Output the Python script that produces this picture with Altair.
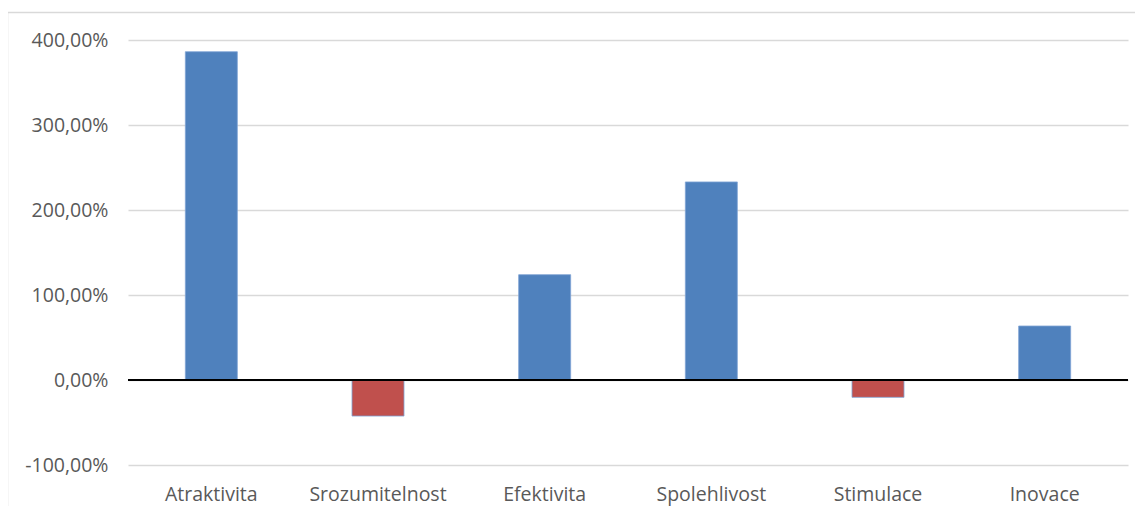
import altair as alt
import pandas as pd

categories = ["Atraktivita", "Srozumitelnost", "Efektivita", "Spolehlivost", "Stimulace", "Inovace"]
values = [3.862, -0.424, 1.239, 2.33, -0.204, 0.635]
y_ticks = [-1, 0, 1, 2, 3, 4]

df = pd.DataFrame({"category": categories, "value": values})

W, H = 1000, 425

x_enc = alt.X("category:N", sort=categories, title=None,
              scale=alt.Scale(paddingInner=0, paddingOuter=0),
              axis=alt.Axis(labelAngle=0, ticks=False, domain=False, grid=False,
                            labelPadding=20, labelFontSize=19.5, labelFont="Open Sans",
                            labelColor="#595959"))
y_scale = alt.Scale(domain=[-1, 4], nice=False, zero=False)

bars = alt.Chart(df).mark_bar(size=52, stroke="#7FA3D4", strokeWidth=0.8).encode(
    x=x_enc,
    y=alt.Y("value:Q", scale=y_scale, title=None,
            axis=alt.Axis(values=y_ticks, ticks=False, domain=False, grid=True,
                          gridColor="#D9D9D9", gridWidth=1.5,
                          labelPadding=20, labelFontSize=19.5, labelFont="Open Sans",
                          labelColor="#595959",
                          labelExpr="(datum.value < 0 ? '-' : '') + replace(format(abs(datum.value)*100, '.2f'), '.', ',') + '%'")),
    y2=alt.datum(0),
    color=alt.condition(alt.datum.value > 0, alt.value("#4F81BD"), alt.value("#C0504D")),
)

zero = alt.Chart(pd.DataFrame({"z": [0]})).mark_rule(color="#000000", strokeWidth=2).encode(
    y=alt.Y("z:Q", scale=y_scale)
)

frame = alt.Chart(pd.DataFrame({"f": [0]})).mark_rect(
    fill=None, stroke="#D9D9D9", strokeWidth=1.5, clip=False
).encode(
    x=alt.value(-120.5), x2=alt.value(1030), y=alt.value(-27.5), y2=alt.value(520)
)

chart = alt.layer(frame, bars, zero).properties(
    width=W, height=H,
    background="white",
    autosize=alt.AutoSizeParams(type="none"),
    padding={"left": 120, "top": 32, "right": 7, "bottom": 41},
).configure_view(stroke=None)

chart.save("out.html", embed_options={"renderer": "svg", "actions": False})
